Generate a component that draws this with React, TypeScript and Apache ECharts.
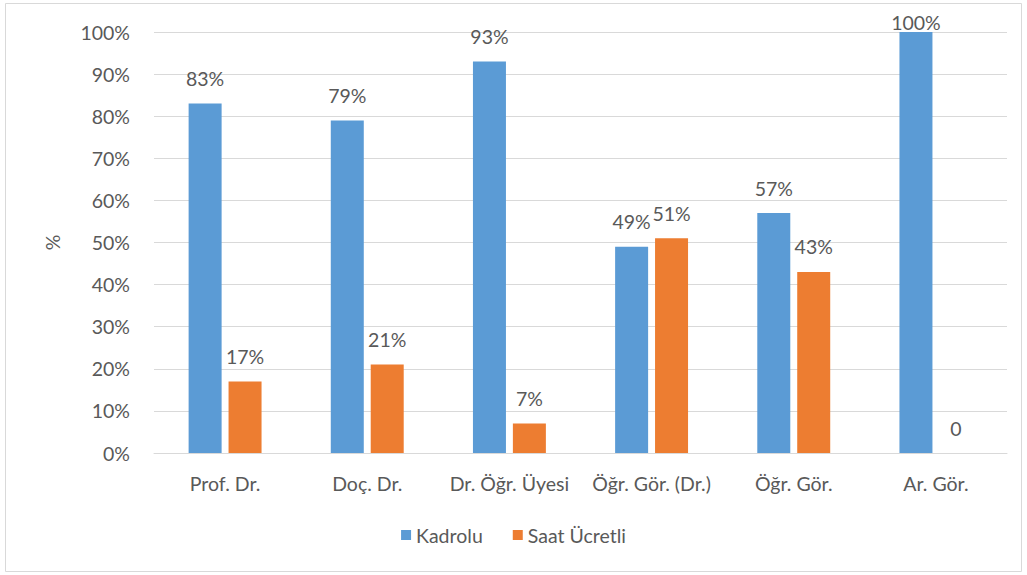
import React, { useEffect, useRef } from "react";
import * as echarts from "echarts";

const categories = ["Prof. Dr.", "Doç. Dr.", "Dr. Öğr. Üyesi", "Öğr. Gör. (Dr.)", "Öğr. Gör.", "Ar. Gör."];
const kadrolu = [83, 79, 93, 49, 57, 100];
const saatUcretli = [17, 21, 7, 51, 43, 0];
const seriesNames = ["Kadrolu", "Saat Ücretli"];

const FONT = "Lato, 'Liberation Sans', sans-serif";
const TXT = "#595959";
const FS = 19.5;

export default function App() {
  const ref = useRef<HTMLDivElement>(null);
  useEffect(() => {
    const chart = echarts.init(ref.current!, undefined, { renderer: "svg" });
    const label = {
      show: true,
      position: "top" as const,
      distance: 15,
      color: TXT,
      fontSize: FS,
      fontFamily: FONT,
      formatter: (p: any) => (p.value === 0 ? "0" : p.value + "%"),
    };
    const toItems = (arr: number[]) =>
      arr.map((v) => (v >= 100 ? { value: v, label: { distance: 0 } } : v));
    chart.setOption({
      animation: false,
      backgroundColor: "#ffffff",
      textStyle: { fontFamily: FONT },
      graphic: [
        {
          type: "rect",
          shape: { x: 5.5, y: 3.5, width: 1016, height: 568 },
          style: { fill: "none", stroke: "#d9d9d9", lineWidth: 1 },
          silent: true,
        },
      ],
      grid: { left: 154, right: 20, top: 32, bottom: 122 },
      legend: {
        bottom: 25,
        left: "center",
        itemWidth: 10,
        itemHeight: 10,
        itemGap: 30,
        icon: "rect",
        textStyle: { color: TXT, fontSize: FS, fontFamily: FONT },
        data: seriesNames,
      },
      xAxis: {
        type: "category",
        data: categories,
        axisLine: { lineStyle: { color: "#d9d9d9", width: 1 } },
        axisTick: { show: false },
        axisLabel: { color: TXT, fontSize: FS, fontFamily: FONT, margin: 20, interval: 0 },
      },
      yAxis: {
        type: "value",
        min: 0,
        max: 100,
        interval: 10,
        name: "%",
        nameLocation: "middle",
        nameGap: 92,
        nameRotate: 90,
        nameTextStyle: { color: TXT, fontSize: FS, fontFamily: FONT },
        axisLine: { show: false },
        axisTick: { show: false },
        splitLine: { lineStyle: { color: "#d9d9d9", width: 1 } },
        axisLabel: { color: TXT, fontSize: FS, fontFamily: FONT, margin: 24, formatter: "{value}%" },
      },
      series: [
        {
          name: seriesNames[0],
          type: "bar",
          data: toItems(kadrolu),
          barWidth: 33,
          barGap: "21%",
          itemStyle: { color: "#5b9bd5" },
          label,
        },
        {
          name: seriesNames[1],
          type: "bar",
          data: toItems(saatUcretli),
          barWidth: 33,
          itemStyle: { color: "#ed7d31" },
          label,
        },
      ],
    });
    return () => chart.dispose();
  }, []);
  return <div ref={ref} style={{ position: "fixed", left: 0, top: 0, width: 1027, height: 575 }} />;
}
